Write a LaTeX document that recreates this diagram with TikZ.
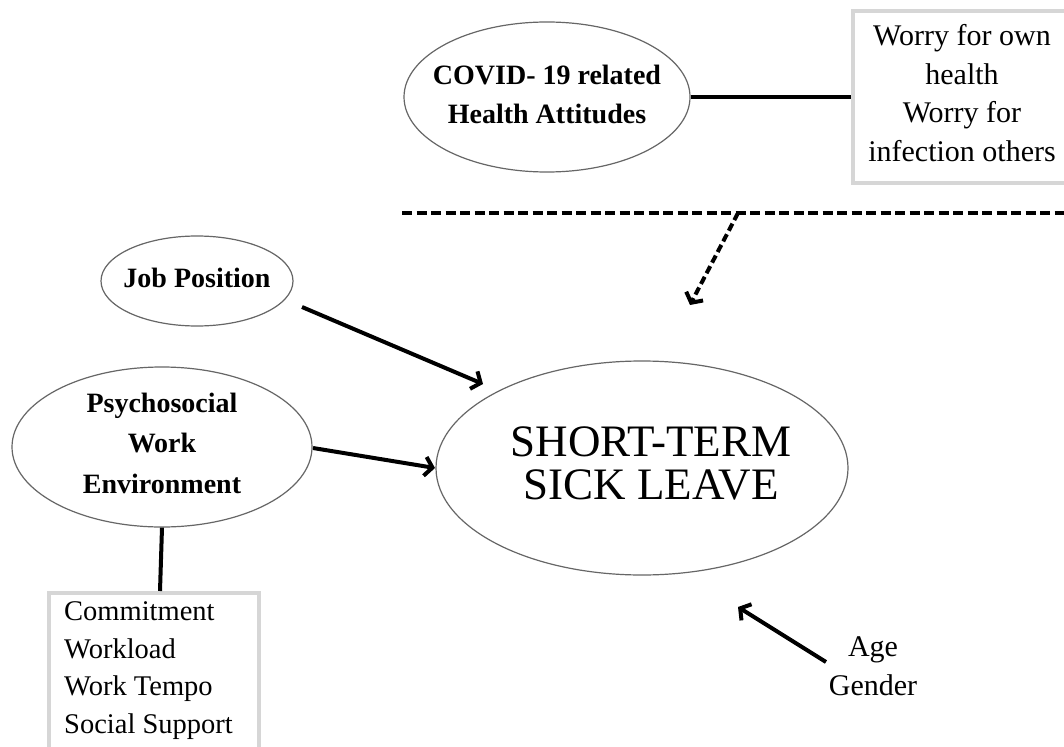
\documentclass[tikz,border=0pt]{standalone}
\usepackage{fontspec}
\setmainfont{Liberation Serif}
\usetikzlibrary{arrows.meta,shapes.geometric}
\newcommand{\zw}[1]{\makebox[0pt]{#1}}
\begin{document}
\begin{tikzpicture}[x=1pt,y=-1pt,
  oval/.style={draw=black!60, line width=1.2pt, ellipse, inner sep=0pt, align=center},
  bfl/.style={font=\fontsize{28}{39}\selectfont\bfseries},
  gbox/.style={draw=black!16, line width=4pt, rectangle, inner sep=0pt},
  plain/.style={font=\fontsize{30}{38.5}\selectfont, inner sep=0pt},
  conn/.style={line width=4pt},
  arr/.style={line width=4pt, -{Straight Barb[length=7.5pt,width=19pt]}},
  dline/.style={line width=3.3pt, dash pattern=on 10pt off 4.5pt},
  darr/.style={line width=4pt, dash pattern=on 8pt off 4pt, -{Straight Barb[length=7.5pt,width=19pt]}}
]
\useasboundingbox (0,0) rectangle (1064,746);
\fill[white] (0,0) rectangle (1064,746);

% nodes
\node[oval, minimum width=286pt, minimum height=150pt, bfl] (covid) at (547,97)
  {\zw{COVID- 19 related}\\\zw{Health Attitudes}\rule[-5pt]{0pt}{5pt}};
\node[gbox, minimum width=218pt, minimum height=172pt] (covbox) at (962,97) {};
\node[plain, align=center, anchor=north] (covtext) at (962,24.5)
  {Worry for own\\health\\Worry for\\infection others};

\node[oval, minimum width=192pt, minimum height=90pt, bfl] (job) at (197,281)
  {\zw{Job Position}\rule[-7pt]{0pt}{7pt}};
\node[oval, minimum width=300pt, minimum height=160pt, font=\fontsize{28}{40.5}\selectfont\bfseries] (psy) at (162,447)
  {\zw{Psychosocial}\\\zw{Work}\\\zw{Environment}\rule[-8pt]{0pt}{8pt}};
\node[oval, minimum width=412pt, minimum height=214pt, font=\fontsize{45}{43}\selectfont] (main) at (642,468)
  {\zw{\hspace*{18pt}SHORT-TERM}\\\zw{\hspace*{18pt}SICK LEAVE}\rule[-9pt]{0pt}{9pt}};

\node[gbox, minimum width=210pt, minimum height=177pt] (factbox) at (154,681.5) {};
\node[font=\fontsize{28.5}{37.5}\selectfont, inner sep=0pt, align=left, anchor=north west] (facttext) at (64,601.5)
  {Commitment\\Workload\\Work Tempo\\Social Support};

\node[plain, align=center, anchor=north] (agetext) at (873,636.8) {Age\\Gender};

% coordinates for free connector ends
\coordinate (dl) at (402,213);
\coordinate (dr) at (1070,213);
\coordinate (dm) at (738,213);
\coordinate (dt) at (690,305);
\coordinate (jobA) at (302,307);
\coordinate (jobB) at (483,384);
\coordinate (psyA) at (313,448);
\coordinate (psyB) at (435,468);
\coordinate (ageA) at (826,662);
\coordinate (ageB) at (738,607);

% connectors
\draw[conn] (covid.east) -- (covbox.west);
\draw[conn] (psy.south) -- ([xshift=6pt]factbox.north);
\draw[dline] (dl) -- (dr);
\draw[darr] (dm) -- (dt);
\draw[arr] (jobA) -- (jobB);
\draw[arr] (psyA) -- (psyB);
\draw[arr] (ageA) -- (ageB);
\end{tikzpicture}
\end{document}
